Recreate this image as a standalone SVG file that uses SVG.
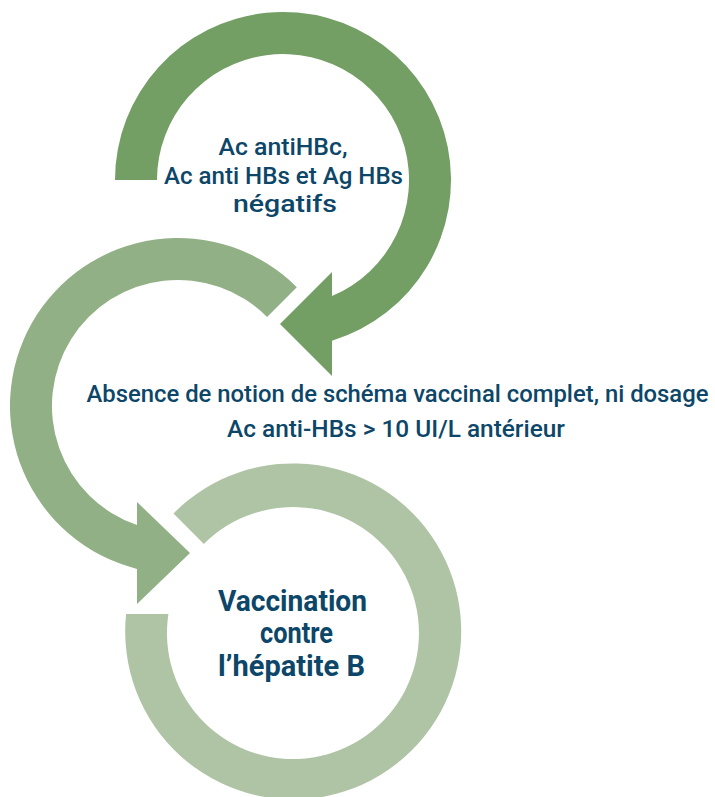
<svg xmlns="http://www.w3.org/2000/svg" width="715" height="797" viewBox="0 0 715 797">
  <style>
    .lbl { font-family: Roboto, "Liberation Sans", sans-serif; font-weight: 500; font-size: 24px; fill: #0c4668; text-anchor: middle; }
    .big { font-family: Roboto, "Liberation Sans", sans-serif; font-weight: 700; font-size: 29.5px; fill: #0c4668; text-anchor: middle; }
    .r1 { fill: #739e64; }
    .r2 { fill: #91b085; }
    .r3 { fill: #aec4a5; }
  </style>
  <rect width="715" height="797" fill="#ffffff"/>
  <g id="connectors">
    <path id="arc-top" class="r1" d="M 115,180 A 168 168 0 1 1 332,340.7 L 332,376 L 280,324 L 332,272 L 332,296.1 A 126 126 0 1 0 157,180 Z"/>
    <path id="arc-middle" class="r2" d="M 296.8,287.2 A 168 168 0 1 0 137,568.9 L 137,604 L 190,553 L 137,502 L 137,525.1 A 126 126 0 1 1 267.1,316.9 Z"/>
    <path id="arc-bottom" class="r3" d="M 173.5,513.5 A 168 168 0 1 1 126.1,614 L 168.4,614 A 126 126 0 1 0 203.9,543.9 Z"/>
  </g>
  <g id="node-tests">
    <text class="lbl" x="283" y="155" textLength="129" lengthAdjust="spacingAndGlyphs">Ac antiHBc,</text>
    <text class="lbl" x="283.5" y="184" textLength="239" lengthAdjust="spacingAndGlyphs">Ac anti HBs et Ag HBs</text>
    <text class="lbl" x="285" y="212" textLength="104" lengthAdjust="spacingAndGlyphs">négatifs</text>
  </g>
  <g id="node-absence">
    <text class="lbl" x="397.5" y="402" textLength="622" lengthAdjust="spacingAndGlyphs">Absence de notion de schéma vaccinal complet, ni dosage</text>
    <text class="lbl" x="396" y="437" textLength="338" lengthAdjust="spacingAndGlyphs">Ac anti-HBs &gt; 10 UI/L antérieur</text>
  </g>
  <g id="node-vaccination">
    <text class="big" x="292.5" y="611" textLength="149" lengthAdjust="spacingAndGlyphs">Vaccination</text>
    <text class="big" x="296.5" y="643" textLength="73" lengthAdjust="spacingAndGlyphs">contre</text>
    <text class="big" x="291.5" y="676" textLength="147" lengthAdjust="spacingAndGlyphs">l’hépatite B</text>
  </g>
</svg>
